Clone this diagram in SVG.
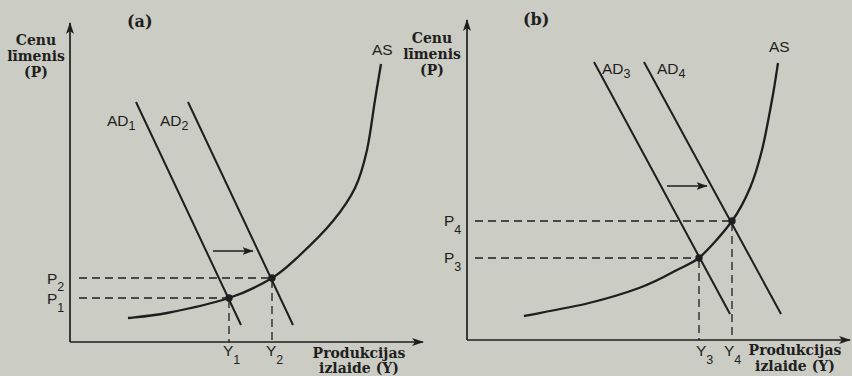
<svg xmlns="http://www.w3.org/2000/svg" width="852" height="376" viewBox="0 0 852 376">
<defs>
<style>
.bg{fill:#cbccc4}
.ax{stroke:#1e1e1e;stroke-width:1.7;fill:none}
.ad{stroke:#1e1e1e;stroke-width:2;fill:none}
.as{stroke:#1e1e1e;stroke-width:2.3;fill:none}
.dash{stroke:#1e1e1e;stroke-width:1.3;stroke-dasharray:8 5;fill:none}
.sh{stroke:#1e1e1e;stroke-width:1.5;fill:none}
.dot{fill:#1e1e1e}
.ttl{font-family:"DejaVu Serif","Liberation Serif",serif;font-weight:bold;font-size:14px;fill:#1e1e1e}
.hd{font-family:"DejaVu Serif","Liberation Serif",serif;font-weight:bold;font-size:16px;fill:#1e1e1e}
.lbl{font-family:"Liberation Sans",Arial,sans-serif;font-size:15.5px;fill:#1e1e1e}
.sub{font-family:"Liberation Sans",Arial,sans-serif;font-size:12.5px;fill:#1e1e1e}
</style>
<marker id="ah" viewBox="0 0 12 8" refX="11" refY="4" markerWidth="12" markerHeight="8" markerUnits="userSpaceOnUse" orient="auto">
<path d="M0,0 L12,4 L0,8 L3,4 Z" fill="#1e1e1e"/>
</marker>
<marker id="sa" viewBox="0 0 11 8" refX="10.5" refY="4" markerWidth="11" markerHeight="8" markerUnits="userSpaceOnUse" orient="auto">
<path d="M0,0 L11,4 L0,8 L2.5,4 Z" fill="#1e1e1e"/>
</marker>
</defs>
<rect class="bg" x="0" y="0" width="852" height="376"/>

<g id="connectors">
<path class="ax" d="M70,342 L70,23" marker-end="url(#ah)"/>
<path class="ax" d="M70,342 L423,342" marker-end="url(#ah)"/>
<path class="ax" d="M467,340 L467,20" marker-end="url(#ah)"/>
<path class="ax" d="M467,340 L850,340" marker-end="url(#ah)"/>
<path class="dash" d="M79,278 L272,278"/>
<path class="dash" d="M79,298 L229,298"/>
<path class="dash" d="M229,300 L229,342"/>
<path class="dash" d="M272,280 L272,342"/>
<path class="dash" d="M475,221 L732,221"/>
<path class="dash" d="M475,258 L699,258"/>
<path class="dash" d="M699,260 L699,340"/>
<path class="dash" d="M732,223 L732,340"/>
<path class="sh" d="M213,251 L253,251" marker-end="url(#sa)"/>
<path class="sh" d="M667,186 L707,186" marker-end="url(#sa)"/>
</g>

<g id="as-a">
<path class="as" d="M128,318 C134.5,317.2 150.2,316.3 167,313 C183.8,309.7 211.5,303.8 229,298 C246.5,292.2 260.2,285.2 272,278 C283.8,270.8 289.8,264.5 300,255 C310.2,245.5 323.8,232.2 333,221 C342.2,209.8 349.3,199.8 355,188 C360.7,176.2 363.7,164.7 367,150 C370.3,135.3 372.7,114.3 375,100 C377.3,85.7 380,70 381,64"/>
<text class="lbl" x="372" y="55">AS</text>
</g>
<g id="ad1">
<path class="ad" d="M136,102 L241,325"/>
<text class="lbl" x="107" y="126">AD<tspan class="sub" dy="4">1</tspan></text>
</g>
<g id="ad2">
<path class="ad" d="M188,102 L293,325"/>
<text class="lbl" x="160" y="126">AD<tspan class="sub" dy="4">2</tspan></text>
</g>
<g id="eq-a">
<circle class="dot" cx="229" cy="298" r="3.7"/>
<circle class="dot" cx="272" cy="278" r="3.7"/>
</g>
<g id="labels-a">
<text class="hd" x="127" y="27">(a)</text>
<text class="ttl" x="36" y="45" text-anchor="middle">Cenu</text>
<text class="ttl" x="36" y="61" text-anchor="middle">līmenis</text>
<text class="ttl" x="36" y="77" text-anchor="middle">(P)</text>
<text class="lbl" x="47" y="284">P<tspan class="sub" dy="7">2</tspan></text>
<text class="lbl" x="47" y="304">P<tspan class="sub" dy="8">1</tspan></text>
<text class="lbl" x="223" y="356">Y<tspan class="sub" dy="8">1</tspan></text>
<text class="lbl" x="266" y="356">Y<tspan class="sub" dy="8">2</tspan></text>
<text class="ttl" x="359" y="358" text-anchor="middle">Produkcijas</text>
<text class="ttl" x="359" y="373" text-anchor="middle">izlaide (Y)</text>
</g>

<g id="as-b">
<path class="as" d="M524,316 C534.8,313.8 569.8,307.7 589,303 C608.2,298.3 624.7,293.3 639,288 C653.3,282.7 664,277 674,271.5 C684,266 689.5,265 699,258 C708.5,249.7 723.5,232.7 732,221 C740.5,209.3 745,199.8 750,188 C755,176.2 758.3,164.7 762,150 C765.7,135.3 769.3,114.5 772,100 C774.7,85.5 777,69.2 778,63"/>
<text class="lbl" x="769" y="52">AS</text>
</g>
<g id="ad3">
<path class="ad" d="M594,62 L730,314"/>
<text class="lbl" x="602" y="74">AD<tspan class="sub" dy="4">3</tspan></text>
</g>
<g id="ad4">
<path class="ad" d="M644,62 L781,314"/>
<text class="lbl" x="657" y="74">AD<tspan class="sub" dy="4">4</tspan></text>
</g>
<g id="eq-b">
<circle class="dot" cx="699" cy="258" r="3.7"/>
<circle class="dot" cx="732" cy="221" r="3.7"/>
</g>
<g id="labels-b">
<text class="hd" x="523" y="25">(b)</text>
<text class="ttl" x="432" y="43" text-anchor="middle">Cenu</text>
<text class="ttl" x="432" y="59" text-anchor="middle">līmenis</text>
<text class="ttl" x="432" y="75" text-anchor="middle">(P)</text>
<text class="lbl" x="444" y="226">P<tspan class="sub" dy="8">4</tspan></text>
<text class="lbl" x="444" y="263">P<tspan class="sub" dy="8">3</tspan></text>
<text class="lbl" x="696" y="356">Y<tspan class="sub" dy="8">3</tspan></text>
<text class="lbl" x="724" y="356">Y<tspan class="sub" dy="8">4</tspan></text>
<text class="ttl" x="795" y="355" text-anchor="middle">Produkcijas</text>
<text class="ttl" x="795" y="371" text-anchor="middle">izlaide (Y)</text>
</g>
</svg>
